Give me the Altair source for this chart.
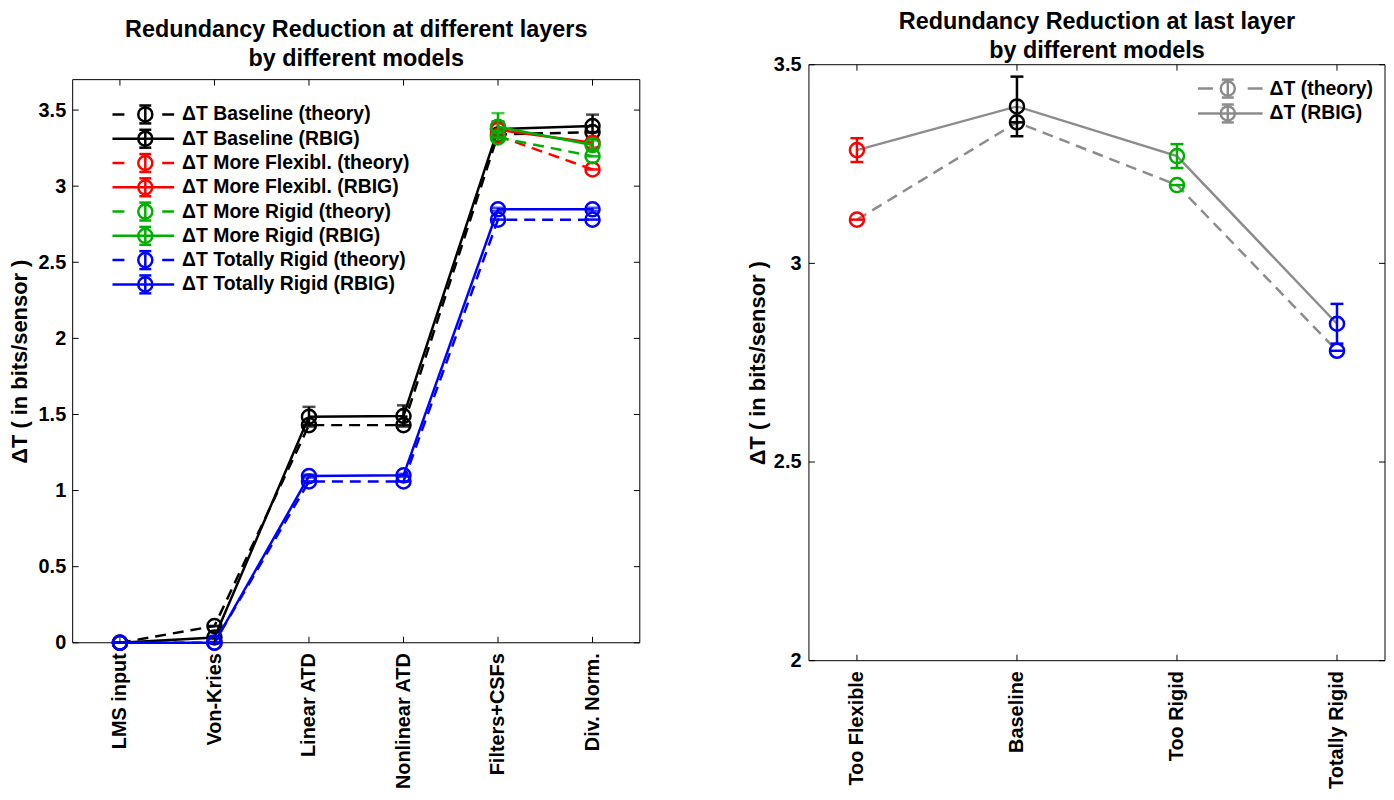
import altair as alt
import pandas as pd

FONT = "Liberation Sans"

# ---------------- data: left panel ----------------
layers = ["LMS input", "Von-Kries", "Linear ATD", "Nonlinear ATD", "Filters+CSFs", "Div. Norm."]
models = ["Baseline", "More Flexibl.", "More Rigid", "Totally Rigid"]
model_colors = ["#000000", "#ff0000", "#00b000", "#0000ff"]

baseline_theory = [0, 0.11, 1.43, 1.43, 3.34, 3.355]
baseline_rbig = [0, 0.035, 1.485, 1.49, 3.375, 3.395]
baseline_err = [0, 0.01, 0.065, 0.07, 0.05, 0.075]

flex_theory = [None, None, None, None, 3.33, 3.11]
flex_rbig = [None, None, None, None, 3.37, 3.285]
flex_err = [None, None, None, None, 0.05, 0.03]

rigid_theory = [None, None, None, None, 3.32, 3.197]
rigid_rbig = [None, None, None, None, 3.39, 3.27]
rigid_err = [None, None, None, None, 0.09, 0.03]

totrig_theory = [0, 0, 1.06, 1.06, 2.78, 2.78]
totrig_rbig = [0, 0, 1.095, 1.10, 2.848, 2.848]
totrig_err = [0, 0.005, 0.01, 0.01, 0.01, 0.01]

left_yticks = [0, 0.5, 1, 1.5, 2, 2.5, 3, 3.5]

# ---------------- data: right panel ----------------
last_cats = ["Too Flexible", "Baseline", "Too Rigid", "Totally Rigid"]
last_theory = [3.11, 3.355, 3.197, 2.78]
last_rbig = [3.285, 3.395, 3.27, 2.848]
last_err = [0.03, 0.075, 0.03, 0.05]
last_colors = ["#ff0000", "#000000", "#00b000", "#0000ff"]
right_yticks = [2, 2.5, 3, 3.5]
right_legend = ["ΔT (theory)", "ΔT (RBIG)"]

left_title = ["Redundancy Reduction at different layers", "by different models"]
right_title = ["Redundancy Reduction at last layer", "by different models"]
ylabel = "ΔT ( in bits/sensor )"

# ---------------- styling ----------------
LW = 2.5
DASH = [11, 7]
MSIZE = 200
CAP = 13
GRAY = "#8c8c8c"
TICKLEN = 6
TITLE_FS = 23.5
LEG_FS = 19.5
LAB_FS = 20
YT_FS = 22

TOPL = 15                     # empty strip above the left frame
LW_, LH_ = 570, 566 + TOPL    # left panel (group) size
RW_, RH_ = 579, 599           # right panel

one = pd.DataFrame({"k": [0]})


def frame(w, top, bottom):
    o = alt.Chart(one)
    return [
        o.mark_rule(color="black", strokeWidth=1).encode(x=alt.value(0), x2=alt.value(w), y=alt.value(top)),
        o.mark_rule(color="black", strokeWidth=1).encode(x=alt.value(0), x2=alt.value(w), y=alt.value(bottom)),
        o.mark_rule(color="black", strokeWidth=1).encode(x=alt.value(0), y=alt.value(top), y2=alt.value(bottom)),
        o.mark_rule(color="black", strokeWidth=1).encode(x=alt.value(w), y=alt.value(top), y2=alt.value(bottom)),
    ]


# ---------------- left panel ----------------
series_specs = []
for m, col, th, rb, er in zip(
    models, model_colors,
    [baseline_theory, flex_theory, rigid_theory, totrig_theory],
    [baseline_rbig, flex_rbig, rigid_rbig, totrig_rbig],
    [baseline_err, flex_err, rigid_err, totrig_err],
):
    series_specs.append((f"ΔT {m} (theory)", col, True, th, [0 if v is not None else None for v in th]))
    series_specs.append((f"ΔT {m} (RBIG)", col, False, rb, er))

rows = []
for name, col, dashed, vals, errs in series_specs:
    for cat, v, e in zip(layers, vals, errs):
        if v is None:
            continue
        rows.append(dict(series=name, layer=cat, value=v, lo=v - e, hi=v + e))
df_left = pd.DataFrame(rows)

xL = alt.X("layer:N", sort=layers,
           scale=alt.Scale(type="point", padding=0.5, domain=layers),
           axis=alt.Axis(title=None, labelAngle=-90, labelPadding=10))
yscaleL = alt.Scale(domain=[0, 3.7], nice=False, zero=False, range=[LH_, TOPL])
yaxisL = alt.Axis(values=left_yticks, title=ylabel, labelExpr="toString(datum.value)",
                  labelPadding=7, titlePadding=7)


def yL(field):
    return alt.Y(f"{field}:Q", scale=yscaleL, axis=yaxisL)


left_layers = frame(LW_, TOPL, LH_)
base = alt.Chart(df_left)
for name, col, dashed, vals, errs in series_specs:
    s = base.transform_filter(alt.datum.series == name)
    line_kw = dict(color=col, strokeWidth=LW)
    if dashed:
        line_kw["strokeDash"] = DASH
    left_layers.append(s.mark_line(**line_kw).encode(x=xL, y=yL("value")))
    left_layers.append(s.mark_rule(color=col, strokeWidth=LW).encode(x=xL, y=yL("lo"), y2="hi:Q"))
    left_layers.append(s.mark_tick(color=col, thickness=LW, size=CAP, orient="horizontal").encode(x=xL, y=yL("lo")))
    left_layers.append(s.mark_tick(color=col, thickness=LW, size=CAP, orient="horizontal").encode(x=xL, y=yL("hi")))
    left_layers.append(s.mark_point(shape="circle", filled=False, color=col, size=MSIZE, strokeWidth=LW, opacity=1)
                       .encode(x=xL, y=yL("value")))

# inward ticks
ytk = alt.Chart(pd.DataFrame({"value": left_yticks}))
left_layers.append(ytk.mark_rule(color="black", strokeWidth=1).encode(y=yL("value"), x=alt.value(0), x2=alt.value(TICKLEN)))
left_layers.append(ytk.mark_rule(color="black", strokeWidth=1).encode(y=yL("value"), x=alt.value(LW_), x2=alt.value(LW_ - TICKLEN)))
xtk = alt.Chart(pd.DataFrame({"layer": layers}))
left_layers.append(xtk.mark_rule(color="black", strokeWidth=1).encode(x=xL, y=alt.value(LH_), y2=alt.value(LH_ - TICKLEN)))
left_layers.append(xtk.mark_rule(color="black", strokeWidth=1).encode(x=xL, y=alt.value(TOPL), y2=alt.value(TOPL + TICKLEN)))

# legend (manual)
leg_x0, leg_x1, leg_m, leg_t = 40, 102, 73, 110
for i, (name, col, dashed, vals, errs) in enumerate(series_specs):
    ly = TOPL + 35 + 24.4 * i
    o = alt.Chart(one)
    kw = dict(color=col, strokeWidth=LW)
    if dashed:
        kw["strokeDash"] = [12, 38]
    left_layers.append(o.mark_rule(**kw).encode(x=alt.value(leg_x0), x2=alt.value(leg_x1), y=alt.value(ly)))
    left_layers.append(o.mark_rule(color=col, strokeWidth=LW).encode(x=alt.value(leg_m), y=alt.value(ly - 9), y2=alt.value(ly + 9)))
    left_layers.append(o.mark_rule(color=col, strokeWidth=LW).encode(x=alt.value(leg_m - 6), x2=alt.value(leg_m + 6), y=alt.value(ly - 9)))
    left_layers.append(o.mark_rule(color=col, strokeWidth=LW).encode(x=alt.value(leg_m - 6), x2=alt.value(leg_m + 6), y=alt.value(ly + 9)))
    left_layers.append(o.mark_point(shape="circle", filled=False, color=col, size=MSIZE, strokeWidth=LW, opacity=1)
                       .encode(x=alt.value(leg_m), y=alt.value(ly)))
    left_layers.append(o.mark_text(text=name, align="left", baseline="middle", font=FONT, fontSize=LEG_FS,
                                   fontWeight="bold", color="black").encode(x=alt.value(leg_t), y=alt.value(ly)))

for j, t in enumerate(left_title):
    left_layers.append(alt.Chart(one).mark_text(text=t, align="center", baseline="middle", font=FONT,
                                                fontSize=TITLE_FS, fontWeight="bold", color="black")
                       .encode(x=alt.value(LW_ / 2), y=alt.value(-35 + 29 * j)))

left = alt.layer(*left_layers).properties(width=LW_, height=LH_)

# ---------------- right panel ----------------
df_right = pd.DataFrame({
    "cat": last_cats,
    "theory": last_theory,
    "rbig": last_rbig,
    "lo": [v - e for v, e in zip(last_rbig, last_err)],
    "hi": [v + e for v, e in zip(last_rbig, last_err)],
    "col": last_colors,
})

xR = alt.X("cat:N", sort=last_cats,
           scale=alt.Scale(type="point", padding=0.3, domain=last_cats),
           axis=alt.Axis(title=None, labelAngle=-90, labelPadding=10))
yscaleR = alt.Scale(domain=[2, 3.5], nice=False, zero=False)
yaxisR = alt.Axis(values=right_yticks, title=ylabel, labelExpr="toString(datum.value)",
                  labelPadding=8, titlePadding=4)


def yR(field):
    return alt.Y(f"{field}:Q", scale=yscaleR, axis=yaxisR)


colR = alt.Color("col:N", scale=None, legend=None)
rb = alt.Chart(df_right)
right_layers = frame(RW_, 0, RH_) + [
    rb.mark_line(color=GRAY, strokeWidth=LW, strokeDash=DASH).encode(x=xR, y=yR("theory")),
    rb.mark_line(color=GRAY, strokeWidth=LW).encode(x=xR, y=yR("rbig")),
    rb.mark_tick(thickness=LW, size=CAP, orient="horizontal", opacity=1).encode(x=xR, y=yR("theory"), color=colR),
    rb.mark_point(shape="circle", filled=False, size=MSIZE, strokeWidth=LW, opacity=1).encode(x=xR, y=yR("theory"), color=colR),
    rb.mark_rule(strokeWidth=LW).encode(x=xR, y=yR("lo"), y2="hi:Q", color=colR),
    rb.mark_tick(thickness=LW, size=CAP, orient="horizontal", opacity=1).encode(x=xR, y=yR("lo"), color=colR),
    rb.mark_tick(thickness=LW, size=CAP, orient="horizontal", opacity=1).encode(x=xR, y=yR("hi"), color=colR),
    rb.mark_point(shape="circle", filled=False, size=MSIZE, strokeWidth=LW, opacity=1).encode(x=xR, y=yR("rbig"), color=colR),
]

ytkR = alt.Chart(pd.DataFrame({"value": right_yticks}))
right_layers.append(ytkR.mark_rule(color="black", strokeWidth=1).encode(y=yR("value"), x=alt.value(0), x2=alt.value(TICKLEN)))
right_layers.append(ytkR.mark_rule(color="black", strokeWidth=1).encode(y=yR("value"), x=alt.value(RW_), x2=alt.value(RW_ - TICKLEN)))
xtkR = alt.Chart(pd.DataFrame({"cat": last_cats}))
right_layers.append(xtkR.mark_rule(color="black", strokeWidth=1).encode(x=xR, y=alt.value(RH_), y2=alt.value(RH_ - TICKLEN)))
right_layers.append(xtkR.mark_rule(color="black", strokeWidth=1).encode(x=xR, y=alt.value(0), y2=alt.value(TICKLEN)))

r_x0, r_x1, r_m, r_t = 391, 456, 421, 463
for i, name in enumerate(right_legend):
    ly = 24 + 25 * i
    o = alt.Chart(one)
    kw = dict(color=GRAY, strokeWidth=LW)
    if i == 0:
        kw["strokeDash"] = [15, 35]
    right_layers.append(o.mark_rule(**kw).encode(x=alt.value(r_x0), x2=alt.value(r_x1), y=alt.value(ly)))
    right_layers.append(o.mark_rule(color=GRAY, strokeWidth=LW).encode(x=alt.value(r_m), y=alt.value(ly - 9), y2=alt.value(ly + 9)))
    right_layers.append(o.mark_rule(color=GRAY, strokeWidth=LW).encode(x=alt.value(r_m - 6), x2=alt.value(r_m + 6), y=alt.value(ly - 9)))
    right_layers.append(o.mark_rule(color=GRAY, strokeWidth=LW).encode(x=alt.value(r_m - 6), x2=alt.value(r_m + 6), y=alt.value(ly + 9)))
    right_layers.append(o.mark_point(shape="circle", filled=False, color=GRAY, size=MSIZE, strokeWidth=LW, opacity=1)
                        .encode(x=alt.value(r_m), y=alt.value(ly)))
    right_layers.append(o.mark_text(text=name, align="left", baseline="middle", font=FONT, fontSize=LEG_FS,
                                    fontWeight="bold", color="black").encode(x=alt.value(r_t), y=alt.value(ly)))

for j, t in enumerate(right_title):
    right_layers.append(alt.Chart(one).mark_text(text=t, align="center", baseline="middle", font=FONT,
                                                 fontSize=TITLE_FS, fontWeight="bold", color="black")
                        .encode(x=alt.value(RW_ / 2), y=alt.value(-43 + 29 * j)))

right = alt.layer(*right_layers).properties(width=RW_, height=RH_)

chart = alt.hconcat(left, right, spacing=106, padding=0).configure_view(
    stroke=None
).configure_axis(
    grid=False, ticks=False, domain=False,
    labelFont=FONT, labelFontSize=LAB_FS, labelFontWeight="bold", labelColor="black",
    titleFont=FONT, titleFontSize=YT_FS, titleFontWeight="bold", titleColor="black",
)

chart.save("out.html", embed_options={"renderer": "svg", "actions": False})
